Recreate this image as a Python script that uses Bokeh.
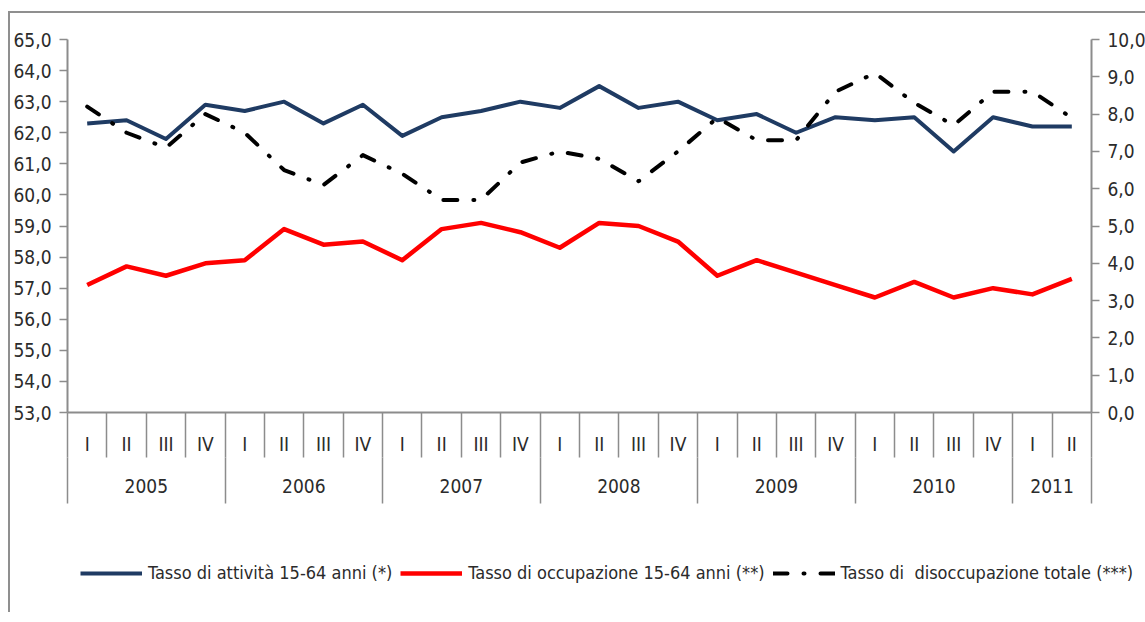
from bokeh.plotting import figure
from bokeh.layouts import column
from bokeh.models import (Range1d, LinearAxis, FixedTicker, CustomJSTickFormatter,
                          Legend, LegendItem)
from bokeh.embed import file_html
from bokeh.resources import INLINE

# ---------------- data ----------------
quarters = ["I", "II", "III", "IV"] * 6 + ["I", "II"]
years = ["2005", "2006", "2007", "2008", "2009", "2010", "2011"]
quarters_per_year = [4, 4, 4, 4, 4, 4, 2]

attivita = [62.3, 62.4, 61.8, 62.9, 62.7, 63.0, 62.3, 62.9,
            61.9, 62.5, 62.7, 63.0, 62.8, 63.5, 62.8, 63.0,
            62.4, 62.6, 62.0, 62.5, 62.4, 62.5, 61.4, 62.5,
            62.2, 62.2]
occupazione = [57.1, 57.7, 57.4, 57.8, 57.9, 58.9, 58.4, 58.5,
               57.9, 58.9, 59.1, 58.8, 58.3, 59.1, 59.0, 58.5,
               57.4, 57.9, 57.5, 57.1, 56.7, 57.2, 56.7, 57.0,
               56.8, 57.3]
disoccupazione = [8.2, 7.5, 7.1, 8.0, 7.5, 6.5, 6.1, 6.9,
                  6.4, 5.7, 5.7, 6.7, 7.0, 6.8, 6.2, 7.0,
                  7.9, 7.3, 7.3, 8.6, 9.1, 8.3, 7.7, 8.6,
                  8.6, 7.9]

labels = ["Tasso di attività 15-64 anni (*)",
          "Tasso di occupazione 15-64 anni (**)",
          "Tasso di  disoccupazione totale (***)"]

left_ticks = list(range(53, 66))
right_ticks = list(range(0, 11))

# ---------------- derived positions ----------------
n = len(quarters)
xs = [i + 0.5 for i in range(n)]
bounds = list(range(n + 1))
year_bounds = [0]
for c in quarters_per_year:
    year_bounds.append(year_bounds[-1] + c)
year_centers = [(year_bounds[i] + year_bounds[i + 1]) / 2 for i in range(len(years))]

FONT = "'Liberation Sans Narrow', 'DejaVu Sans Condensed', 'DejaVu Sans', sans-serif"
TXT = "#2b2b2b"
AX = "#8c8c8c"
FS = "19px"

styles = dict(blu=dict(line_color="#1f3b63", line_width=4, line_join="round"),
              rosso=dict(line_color="#ff0000", line_width=4.5, line_join="round"),
              nero=dict(line_color="black", line_width=4, line_dash="14 16 1 16",
                        line_cap="round", line_join="round"))

p = figure(frame_width=1024, frame_height=373, output_backend="svg", toolbar_location=None,
           x_range=Range1d(0, n), y_range=Range1d(53, 65),
           x_axis_type=None, y_axis_type=None,
           min_border_left=56, min_border_top=26, min_border_right=0,
           min_border_bottom=100)
p.outline_line_color = None
p.background_fill_color = "white"
p.border_fill_color = "white"
p.extra_y_ranges = {"u": Range1d(0, 10)}

fmt = CustomJSTickFormatter(code="return tick.toFixed(1).replace('.', ',');")

ly = LinearAxis(ticker=FixedTicker(ticks=left_ticks), formatter=fmt)
ry = LinearAxis(y_range_name="u", ticker=FixedTicker(ticks=right_ticks), formatter=fmt)
for ax, so in ((ly, 8), (ry, 8)):
    ax.axis_line_color = AX
    ax.axis_line_width = 2
    ax.major_tick_line_color = AX
    ax.major_tick_line_width = 1.5
    ax.major_tick_out = 8
    ax.major_tick_in = 0
    ax.minor_tick_line_color = None
    ax.major_label_standoff = so
    ax.major_label_text_font = FONT
    ax.major_label_text_font_size = FS
    ax.major_label_text_color = TXT
p.add_layout(ly, "left")
p.add_layout(ry, "right")

# quarter axis (separators are the minor ticks)
qa = LinearAxis(ticker=FixedTicker(ticks=xs, minor_ticks=bounds),
                formatter=CustomJSTickFormatter(args=dict(labels=quarters),
                                                code="return labels[Math.floor(tick)];"))
qa.axis_line_color = AX
qa.axis_line_width = 2
qa.major_tick_out = 0
qa.major_tick_in = 0
qa.major_tick_line_color = None
qa.minor_tick_out = 45
qa.minor_tick_in = 0
qa.minor_tick_line_color = AX
qa.minor_tick_line_width = 1.5
qa.major_label_standoff = -25
qa.major_label_text_font = FONT
qa.major_label_text_font_size = FS
qa.major_label_text_color = TXT
p.add_layout(qa, "below")

# year axis
ya = LinearAxis(ticker=FixedTicker(ticks=year_centers, minor_ticks=year_bounds),
                formatter=CustomJSTickFormatter(args=dict(labels=years, pos=year_centers),
                                                code="const i = pos.indexOf(tick); return i >= 0 ? labels[i] : '';"))
ya.axis_line_color = None
ya.major_tick_out = 0
ya.major_tick_in = 0
ya.major_tick_line_color = None
ya.minor_tick_out = 46
ya.minor_tick_in = 0
ya.minor_tick_line_color = AX
ya.minor_tick_line_width = 1.5
ya.major_label_standoff = -25
ya.major_label_text_font = FONT
ya.major_label_text_font_size = FS
ya.major_label_text_color = TXT
p.add_layout(ya, "below")

p.ygrid.grid_line_color = "#a0a0a0"
p.ygrid.grid_line_dash = "4 3"
p.ygrid.grid_line_width = 1
p.ygrid.ticker = FixedTicker(ticks=left_ticks)
p.xgrid.grid_line_color = None

p.line(xs, attivita, **styles["blu"])
p.line(xs, occupazione, **styles["rosso"])
p.line(xs, disoccupazione, y_range_name="u", **styles["nero"])

# legend strip below the chart: same series, drawn out of view, only for the legend keys
pl = figure(frame_width=1130, frame_height=100, output_backend="svg", toolbar_location=None,
            x_axis_type=None, y_axis_type=None, min_border=0,
            x_range=Range1d(-3, -2), y_range=Range1d(0, 1))
pl.outline_line_color = None
pl.grid.grid_line_color = None
k1 = pl.line(xs, attivita, **styles["blu"])
k2 = pl.line(xs, occupazione, **styles["rosso"])
k3 = pl.line(xs, disoccupazione, **styles["nero"])
legend = Legend(items=[LegendItem(label=labels[0], renderers=[k1]),
                       LegendItem(label=labels[1], renderers=[k2]),
                       LegendItem(label=labels[2], renderers=[k3])],
                orientation="horizontal", location=(70, 29),
                padding=0, margin=0, spacing=8, glyph_width=62, glyph_height=20,
                label_standoff=6, border_line_color=None,
                background_fill_alpha=0,
                label_text_font=FONT, label_text_font_size="18px", label_text_color=TXT)
pl.add_layout(legend, "center")

page = column(p, pl, spacing=0,
              styles={"border-top": "2px solid #8f8f8f", "border-left": "2px solid #8f8f8f",
                      "margin-top": "11px", "margin-left": "8px"})

open("out.html", "w").write(file_html(page, INLINE))
